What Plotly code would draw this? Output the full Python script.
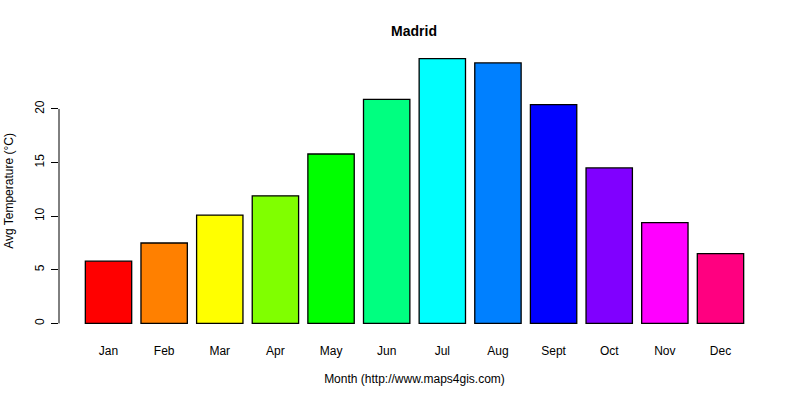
import plotly.graph_objects as go

months = ["Jan", "Feb", "Mar", "Apr", "May", "Jun", "Jul", "Aug", "Sept", "Oct", "Nov", "Dec"]
temps = [5.8, 7.5, 10.1, 11.9, 15.8, 20.9, 24.7, 24.3, 20.4, 14.5, 9.4, 6.5]
colors = ["#FF0000", "#FF8000", "#FFFF00", "#80FF00", "#00FF00", "#00FF80",
          "#00FFFF", "#0080FF", "#0000FF", "#8000FF", "#FF00FF", "#FF0080"]
yticks = [0, 5, 10, 15, 20]

# R barplot look: width 1, space 0.2, axes padded 4%
space = 0.2
n = len(months)
r_lo = space - 0.04 * (n * (1 + space) - space)
r_hi = n * (1 + space) + 0.04 * (n * (1 + space) - space)
center0 = space + 0.5
x_range = [(r_lo - center0) / (1 + space), (r_hi - center0) / (1 + space)]
y_range = [-0.04 * max(temps), 1.04 * max(temps)]

fig = go.Figure()
fig.add_trace(go.Bar(
    x=months,
    y=temps,
    marker_color=colors,
    marker_line_color="black",
    marker_line_width=1.3,
))

family = "Liberation Sans, Arial, sans-serif"
font = dict(family=family, size=12, color="black")

fig.update_layout(
    width=800, height=400,
    margin=dict(l=59, r=30, t=48, b=66),
    paper_bgcolor="white", plot_bgcolor="white",
    font=font,
    bargap=space / (1 + space),
    showlegend=False,
    title=dict(text="<b>Madrid</b>", x=414 / 800, xanchor="center",
               y=1 - 31 / 400, yanchor="middle", yref="container",
               font=dict(family=family, size=14, color="black")),
    xaxis=dict(range=x_range, showline=False, showgrid=False, ticks="",
               zeroline=False, ticklabelstandoff=8, automargin=False,
               tickfont=font,
               title=dict(text="Month (http://www.maps4gis.com)", standoff=17,
                          font=font)),
    yaxis=dict(range=y_range, tickvals=yticks, showgrid=False, zeroline=False,
               showline=False, ticks="outside", ticklen=7, tickcolor="black",
               tickwidth=1, tickangle=-90, ticklabelstandoff=2, automargin=False,
               tickfont=font,
               title=dict(text="Avg Temperature (°C)", standoff=17, font=font)),
)

# R draws the y axis line only between the first and last tick
fig.add_shape(type="line", xref="paper", yref="y", x0=0, x1=0,
              y0=yticks[0], y1=yticks[-1], line=dict(color="black", width=1))

fig.write_html("out.html", config={"displayModeBar": False},
               post_script="document.body.style.margin='0';")
